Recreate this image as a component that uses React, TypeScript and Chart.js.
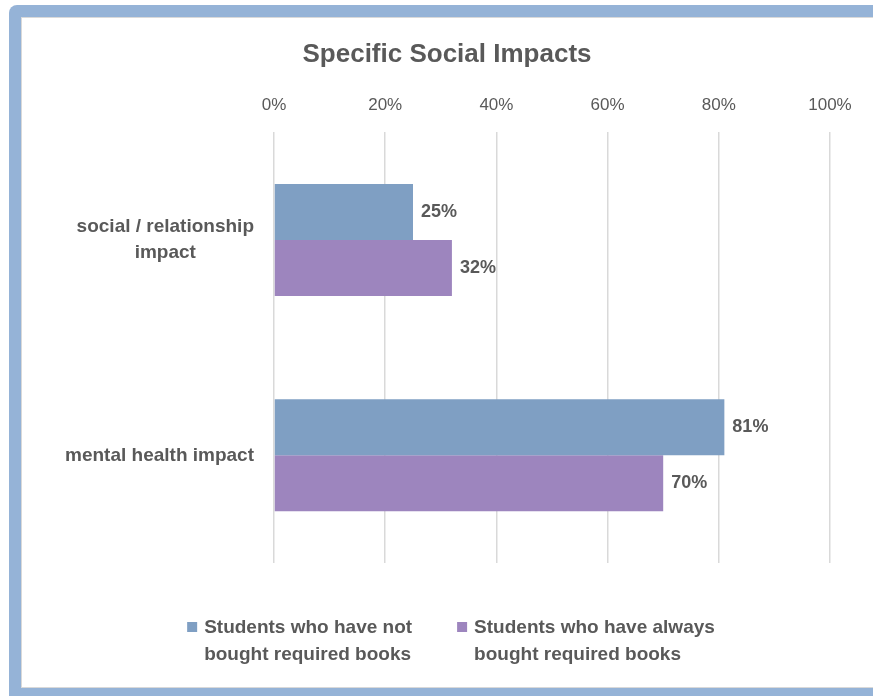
import React, { useEffect, useRef } from "react";
import { Chart, registerables } from "chart.js";

Chart.register(...registerables);

const chartTitle = "Specific Social Impacts";
const categories: string[][] = [["social / relationship", "impact"], ["mental health impact"]];
const seriesNames: string[][] = [
  ["Students who have not", "bought required books"],
  ["Students who have always", "bought required books"],
];
const notBoughtValues = [25, 81];
const alwaysBoughtValues = [32, 70];
const xTickValues = [0, 20, 40, 60, 80, 100];
const seriesColors = ["#7F9FC3", "#9D85BE"];

const FONT = '"Liberation Sans", Arial, sans-serif';
const TEXT = "#595959";

const titlePlugin = {
  id: "customTitle",
  afterDraw(chart: any) {
    const ctx = chart.ctx;
    ctx.save();
    ctx.font = `bold 26px ${FONT}`;
    ctx.fillStyle = TEXT;
    ctx.textAlign = "center";
    ctx.textBaseline = "middle";
    ctx.fillText(chartTitle, 447, 55);
    ctx.restore();
  },
};

const categoryLabelPlugin = {
  id: "categoryLabels",
  afterDraw(chart: any) {
    const ctx = chart.ctx;
    const y = chart.scales.y;
    ctx.save();
    ctx.font = `bold 19px ${FONT}`;
    ctx.fillStyle = TEXT;
    ctx.textAlign = "center";
    ctx.textBaseline = "middle";
    (chart.data.labels as any[]).forEach((lab, i) => {
      const lines: string[] = Array.isArray(lab) ? lab : [lab];
      const w = Math.max(...lines.map((l) => ctx.measureText(l).width));
      const cx = chart.chartArea.left - 20 - w / 2;
      const yc = y.getPixelForValue(i);
      const lh = 26;
      lines.forEach((l, j) => ctx.fillText(l, cx, yc + (j - (lines.length - 1) / 2) * lh));
    });
    ctx.restore();
  },
};

const valueLabelPlugin = {
  id: "valueLabels",
  afterDatasetsDraw(chart: any) {
    const ctx = chart.ctx;
    ctx.save();
    ctx.font = `bold 18px ${FONT}`;
    ctx.fillStyle = TEXT;
    ctx.textAlign = "left";
    ctx.textBaseline = "middle";
    chart.data.datasets.forEach((ds: any, di: number) => {
      const meta = chart.getDatasetMeta(di);
      meta.data.forEach((bar: any, i: number) => {
        ctx.fillText(`${ds.data[i]}%`, bar.x + 8, bar.y);
      });
    });
    ctx.restore();
  },
};

const legendPlugin = {
  id: "customLegend",
  afterDraw(chart: any) {
    const ctx = chart.ctx;
    ctx.save();
    ctx.font = `bold 19px ${FONT}`;
    ctx.textAlign = "left";
    ctx.textBaseline = "middle";
    const items = chart.data.datasets.map((ds: any) => {
      const lines: string[] = ds.legendLines;
      const w = Math.max(...lines.map((l) => ctx.measureText(l).width));
      return { lines, w: 17 + w, color: ds.backgroundColor };
    });
    const gap = 45;
    const total = items.reduce((s: number, it: any) => s + it.w, 0) + gap * (items.length - 1);
    let x = 451 - total / 2;
    const y1 = 628;
    const lh = 27;
    items.forEach((it: any) => {
      ctx.fillStyle = it.color;
      ctx.fillRect(x, y1 - 6, 10, 10);
      ctx.fillStyle = TEXT;
      it.lines.forEach((l: string, j: number) => ctx.fillText(l, x + 17, y1 + j * lh));
      x += it.w + gap;
    });
    ctx.restore();
  },
};

function ChartCanvas() {
  const ref = useRef<HTMLCanvasElement | null>(null);
  useEffect(() => {
    if (!ref.current) return;
    const chart = new Chart(ref.current, {
      type: "bar",
      data: {
        labels: categories as any,
        datasets: [
          {
            label: seriesNames[0].join(" "),
            legendLines: seriesNames[0],
            data: notBoughtValues,
            backgroundColor: seriesColors[0],
            categoryPercentage: 0.52,
            barPercentage: 1,
          } as any,
          {
            label: seriesNames[1].join(" "),
            legendLines: seriesNames[1],
            data: alwaysBoughtValues,
            backgroundColor: seriesColors[1],
            categoryPercentage: 0.52,
            barPercentage: 1,
          } as any,
        ],
      },
      options: {
        indexAxis: "y",
        responsive: false,
        animation: false,
        layout: { padding: { left: 274, right: 43, top: 78, bottom: 133 } },
        plugins: {
          legend: { display: false },
          tooltip: { enabled: false },
          title: { display: false },
        },
        scales: {
          x: {
            position: "top",
            min: 0,
            max: 100,
            afterBuildTicks: (scale: any) => {
              scale.ticks = xTickValues.map((v) => ({ value: v }));
            },
            ticks: {
              callback: (v: any) => `${v}%`,
              color: TEXT,
              font: { family: FONT, size: 17 },
              padding: 17,
              maxRotation: 0,
            },
            grid: { color: "#D9D9D9", lineWidth: 1.5, drawTicks: false },
            border: { display: false },
          },
          y: {
            display: false,
            grid: { display: false },
          },
        },
      },
      plugins: [titlePlugin, categoryLabelPlugin, valueLabelPlugin, legendPlugin],
    });
    return () => chart.destroy();
  }, []);
  return (
    <canvas
      ref={ref}
      width={873}
      height={696}
      style={{ position: "absolute", left: 0, top: 0, width: 873, height: 696 }}
    />
  );
}

export default function App() {
  return (
    <div
      style={{
        position: "fixed",
        left: 0,
        top: 0,
        width: 873,
        height: 696,
        overflow: "hidden",
        background: "#ffffff",
      }}
    >
      <div
        style={{
          position: "absolute",
          left: 9,
          top: 5,
          width: 950,
          height: 720,
          background: "#95B3D7",
          borderRadius: 8,
        }}
      />
      <div
        style={{
          position: "absolute",
          left: 21,
          top: 17,
          width: 950,
          height: 671,
          background: "#ffffff",
          border: "1px solid #D9D9D9",
          boxSizing: "border-box",
        }}
      />
      <ChartCanvas />
    </div>
  );
}
